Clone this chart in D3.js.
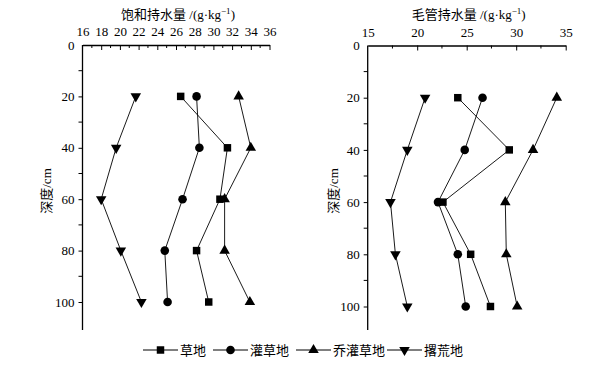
<!DOCTYPE html>
<html lang="zh">
<head>
<meta charset="UTF-8">
<title>持水量</title>
<style>
  body { margin: 0; background: #fff; }
  text { font-family: "Liberation Serif", "Noto Sans CJK SC", serif; fill: #000; }
</style>
</head>
<body>
<svg id="chart" width="608" height="370"></svg>
<script src="https://d3js.org/d3.v7.min.js"></script>
<script>
// depths (cm)
var depths = [20, 40, 60, 80, 100]
var seriesNames = ["草地", "灌草地", "乔灌草地", "撂荒地"]
var symbols = [d3.symbolSquare, d3.symbolCircle, d3.symbolTriangle, "down"]

// saturated water capacity, g/kg
var satGrass = [26.5, 31.5, 30.7, 28.2, 29.5]
var satShrub = [28.2, 28.5, 26.7, 24.8, 25.1]
var satTree = [32.7, 34.0, 31.2, 31.2, 33.9]
var satAband = [21.7, 19.6, 18.0, 20.1, 22.3]

// capillary water capacity, g/kg
var capGrass = [24.1, 29.3, 22.6, 25.4, 27.4]
var capShrub = [26.6, 24.8, 22.1, 24.1, 24.9]
var capTree = [34.1, 31.7, 28.9, 29.0, 30.1]
var capAband = [20.8, 19.0, 17.3, 17.8, 19.0]

var yTicks = [0, 20, 40, 60, 80, 100]

var svg = d3.select("#chart")

// draw a marker shape at origin
function marker(g, type) {
    if (type === "down") {
        g.append("path").attr("d", d3.symbol().type(d3.symbolTriangle).size(48)())
            .attr("transform", "rotate(180)")
    } else if (type === d3.symbolTriangle) {
        g.append("path").attr("d", d3.symbol().type(type).size(48)())
    } else if (type === d3.symbolSquare) {
        g.append("path").attr("d", d3.symbol().type(type).size(56)())
    } else {
        g.append("path").attr("d", d3.symbol().type(type).size(58)())
    }
}

function panel(opt) {
    var x = d3.scaleLinear().domain(opt.xDomain).range([opt.left, opt.right])
    var y = d3.scaleLinear().domain([0, 100]).range([opt.top, opt.y100])
    var bottom = 330

    var g = svg.append("g")

    // title
    var t = g.append("text")
        .attr("x", (opt.left + opt.right) / 2 + 2)
        .attr("y", 19)
        .attr("text-anchor", "middle")
        .style("font-size", "13px")
    t.append("tspan").text(opt.title + " /(g·kg")
    t.append("tspan").attr("dy", -5).style("font-size", "9px").text("−1")
    t.append("tspan").attr("dy", 5).text(")")

    // top axis, ticks pointing inward
    var xAxis = d3.axisTop(x).tickValues(opt.xMajor).tickSizeInner(-5).tickSizeOuter(0).tickPadding(9)
    var gx = g.append("g").attr("transform", "translate(0," + opt.top + ")").call(xAxis)
    gx.selectAll(".tick").filter(function (d) { return d === opt.xDomain[0] }).select("line").remove()
    gx.selectAll("text").style("font-size", "13px").attr("font-family", null)
    gx.select(".domain").attr("stroke-width", 1.3)
    g.append("g").attr("transform", "translate(0," + opt.top + ")")
        .selectAll("line").data(opt.xMinor).enter().append("line")
        .attr("x1", function (d) { return x(d) }).attr("x2", function (d) { return x(d) })
        .attr("y1", 0).attr("y2", 3).attr("stroke", "#000")

    // left axis, ticks pointing outward
    var yAxis = d3.axisLeft(y).tickValues(yTicks).tickSizeInner(4).tickSizeOuter(0).tickPadding(4)
    var gy = g.append("g").attr("transform", "translate(" + opt.left + ",0)").call(yAxis)
    gy.select(".domain").attr("d", "M0," + opt.top + "V" + bottom).attr("stroke-width", 1.3)
    gy.selectAll(".tick").filter(function (d) { return d === 0 }).select("line").remove()
    gy.selectAll("text").style("font-size", "13px").attr("font-family", null)
    g.append("g").attr("transform", "translate(" + opt.left + ",0)")
        .selectAll("line").data([10, 30, 50, 70, 90]).enter().append("line")
        .attr("x1", -4).attr("x2", 0)
        .attr("y1", function (d) { return y(d) }).attr("y2", function (d) { return y(d) })
        .attr("stroke", "#000")

    g.append("text")
        .attr("transform", "translate(" + opt.labelX + "," + opt.labelY + ") rotate(-90)")
        .attr("text-anchor", "middle")
        .style("font-size", "13px")
        .text("深度/cm")

    var line = d3.line().x(function (d) { return x(d[0]) }).y(function (d) { return y(d[1]) })

    opt.series.forEach(function (vals, i) {
        var pts = vals.map(function (v, j) { return [v, depths[j]] })
        g.append("path").datum(pts).attr("d", line)
            .attr("fill", "none").attr("stroke", "#000").attr("stroke-width", 0.9)
        pts.forEach(function (p) {
            var m = g.append("g").attr("transform", "translate(" + x(p[0]) + "," + y(p[1]) + ")")
            marker(m, symbols[i])
        })
    })
}

panel({
    title: "饱和持水量",
    xDomain: [16, 36], left: 82.5, right: 269.5, top: 45, y100: 302,
    xMajor: d3.range(16, 37, 2), xMinor: d3.range(17, 36, 2),
    labelX: 51, labelY: 191,
    series: [satGrass, satShrub, satTree, satAband]
})

panel({
    title: "毛管持水量",
    xDomain: [15, 35], left: 367.7, right: 565.7, top: 45.5, y100: 306.5,
    xMajor: d3.range(15, 36, 5), xMinor: d3.range(17.5, 35, 5),
    labelX: 338, labelY: 191,
    series: [capGrass, capShrub, capTree, capAband]
})

// legend
var legendX = [143, 213, 296, 387]
var leg = svg.append("g").attr("transform", "translate(0,350)")
seriesNames.forEach(function (name, i) {
    var lg = leg.append("g").attr("transform", "translate(" + legendX[i] + ",0)")
    lg.append("line").attr("x1", 0).attr("x2", 35).attr("y1", 0).attr("y2", 0)
        .attr("stroke", "#000").attr("stroke-width", 1)
    marker(lg.append("g").attr("transform", "translate(17.5,0)"), symbols[i])
    lg.append("text").attr("x", 37).attr("y", 4.5).style("font-size", "13px").text(name)
})
</script>
</body>
</html>
